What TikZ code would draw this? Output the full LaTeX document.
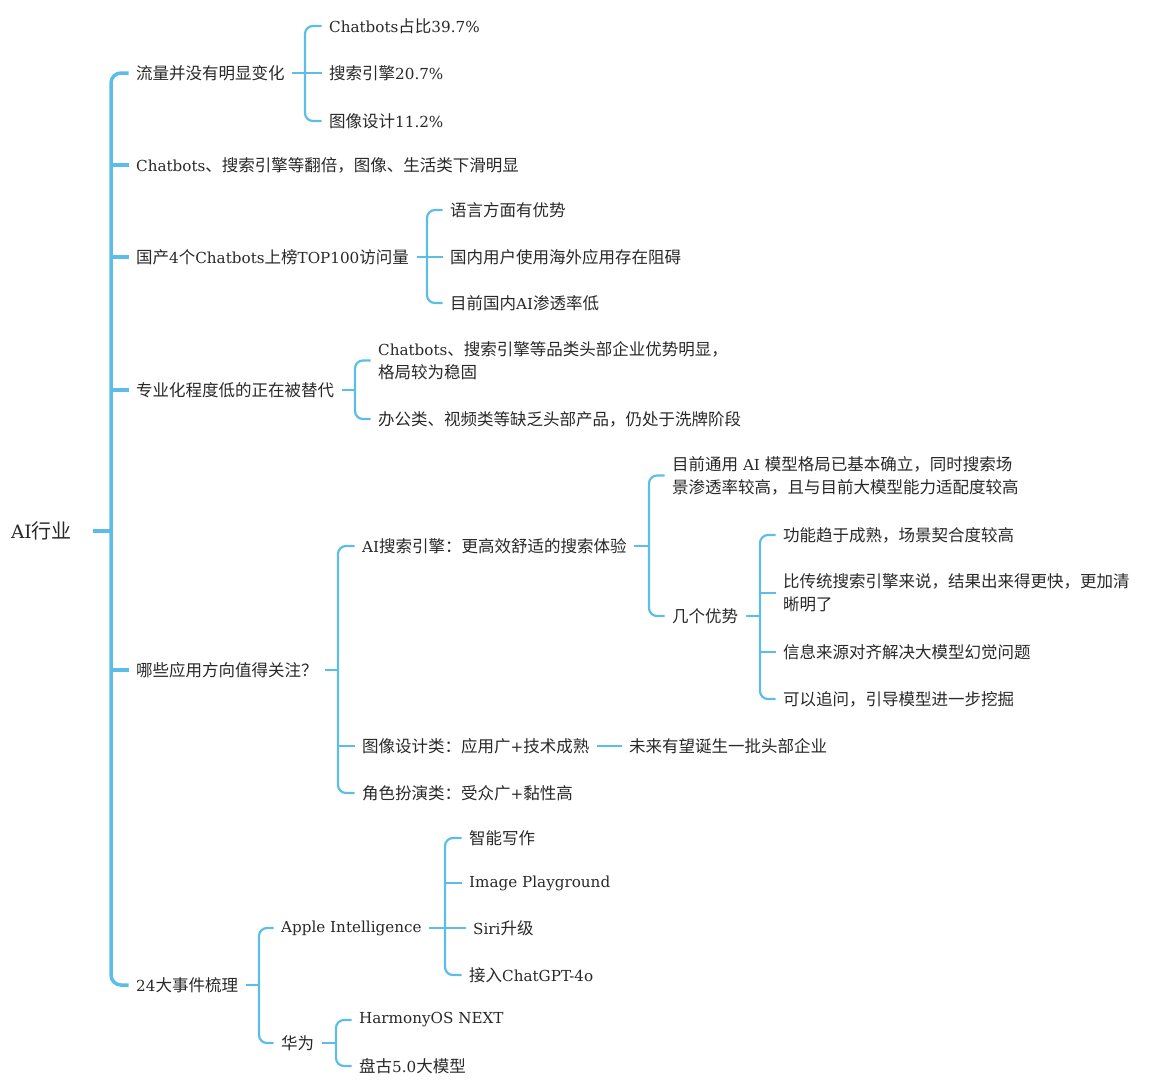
\documentclass[tikz,border=0pt]{standalone}
\usepackage{fontspec}
\setmainfont{DejaVu Serif}[Scale=0.92]
\newfontfamily\cjkfont{Noto Sans CJK SC}
\usepackage{xcolor}
% switch to the CJK face for ideographs and full-width punctuation
\XeTeXinterchartokenstate=1
\newXeTeXintercharclass\cjkclass
\newcount\cjkchar
\newcommand\setcjkrange[2]{%
  \cjkchar=#1
  \loop
    \XeTeXcharclass\cjkchar=\cjkclass
    \ifnum\cjkchar<#2 \advance\cjkchar by 1
  \repeat}
\setcjkrange{"3000}{"303F}
\setcjkrange{"4E00}{"9FFF}
\setcjkrange{"FF00}{"FFEF}
\XeTeXinterchartoks 0 \cjkclass = {\cjkfont}
\XeTeXinterchartoks 4095 \cjkclass = {\cjkfont}
\XeTeXinterchartoks \cjkclass 0 = {\rmfamily}
\XeTeXinterchartoks \cjkclass 4095 = {\rmfamily}
\definecolor{mapblue}{RGB}{92,190,232}
\definecolor{maptext}{RGB}{40,40,40}

\begin{document}
\begin{tikzpicture}[x=1pt,y=1pt,yscale=-1,
    topic/.style={anchor=west,inner xsep=7.5pt,inner ysep=2pt,text=maptext,
      font=\fontsize{16.5}{23}\selectfont,align=left},
    trunk/.style={draw=mapblue,line width=3.5pt,rounded corners=10pt},
    branch/.style={draw=mapblue,line width=2.2pt,rounded corners=8pt}]
\useasboundingbox (0,0) rectangle (1149,1080);

% Text Node
\draw (3.5,531) node [topic,font=\fontsize{20}{24}\selectfont] (root) {AI行业};
% Text Node
\draw (128.5,73) node [topic] (flow) {流量并没有明显变化};
\draw (128.5,165) node [topic] (double) {Chatbots、搜索引擎等翻倍，图像、生活类下滑明显};
\draw (128.5,257) node [topic] (domestic) {国产4个Chatbots上榜TOP100访问量};
\draw (128.5,390) node [topic] (replace) {专业化程度低的正在被替代};
\draw (128.5,670) node [topic] (focus) {哪些应用方向值得关注？};
\draw (128.5,985) node [topic] (events) {24大事件梳理};

% Text Node
\draw (321.5,26) node [topic] (chat) {Chatbots占比39.7\%};
\draw (321.5,73) node [topic] (search) {搜索引擎20.7\%};
\draw (321.5,121) node [topic] (image) {图像设计11.2\%};

% Text Node
\draw (442.5,210) node [topic] (lang) {语言方面有优势};
\draw (442.5,257) node [topic] (block) {国内用户使用海外应用存在阻碍};
\draw (442.5,303) node [topic] (rate) {目前国内AI渗透率低};

% Text Node
\draw (370.5,360.5) node [topic] (head) {Chatbots、搜索引擎等品类头部企业优势明显，\\格局较为稳固};
\draw (370.5,419) node [topic] (shuffle) {办公类、视频类等缺乏头部产品，仍处于洗牌阶段};

% Text Node
\draw (354.5,546) node [topic] (aisearch) {AI搜索引擎：更高效舒适的搜索体验};
\draw (354.5,746) node [topic] (imgdesign) {图像设计类：应用广+技术成熟};
\draw (354.5,793) node [topic] (roleplay) {角色扮演类：受众广+黏性高};
\draw (621.5,746) node [topic] (future) {未来有望诞生一批头部企业};

% Text Node
\draw (664.5,475.5) node [topic] (general) {目前通用 AI 模型格局已基本确立，同时搜索场\\景渗透率较高，且与目前大模型能力适配度较高};
\draw (664.5,616) node [topic] (merits) {几个优势};

% Text Node
\draw (775.5,535) node [topic] (mature) {功能趋于成熟，场景契合度较高};
\draw (775.5,593) node [topic] (faster) {比传统搜索引擎来说，结果出来得更快，更加清\\晰明了};
\draw (775.5,652) node [topic] (source) {信息来源对齐解决大模型幻觉问题};
\draw (775.5,699) node [topic] (follow) {可以追问，引导模型进一步挖掘};

% Text Node
\draw (273.5,928) node [topic] (apple) {Apple Intelligence};
\draw (273.5,1043) node [topic] (huawei) {华为};
\draw (461.5,838) node [topic] (write) {智能写作};
\draw (461.5,883) node [topic] (playground) {Image Playground};
\draw (465.5,928) node [topic] (siri) {Siri升级};
\draw (461.5,975) node [topic] (gpt) {接入ChatGPT-4o};
\draw (351.5,1020) node [topic] (harmony) {HarmonyOS NEXT};
\draw (351.5,1066) node [topic] (pangu) {盘古5.0大模型};

% bracket spines
\coordinate (sp0) at (111,531);
\coordinate (sp1) at (305,73);
\coordinate (sp2) at (427,257);
\coordinate (sp3) at (355,390);
\coordinate (sp4) at (338,670);
\coordinate (sp5) at (649,546);
\coordinate (sp6) at (760,616);
\coordinate (sp7) at (259,985);
\coordinate (sp8) at (445,928);
\coordinate (sp9) at (336,1043);

%Straight Lines
\draw [trunk] ([xshift=14]root.east) -- (sp0);
\draw [trunk] (flow.west) -| (sp0) |- (events.west);
\foreach \n in {double,domestic,replace,focus}
  \draw [trunk] (\n.west) -- (\n.west -| sp0);

%Straight Lines
\draw [branch] (flow.east) -- (sp1);
\draw [branch] (chat.west) -| (sp1) |- (image.west);
\draw [branch] (search.west) -- (search.west -| sp1);

\draw [branch] (domestic.east) -- (sp2);
\draw [branch] (lang.west) -| (sp2) |- (rate.west);
\draw [branch] (block.west) -- (block.west -| sp2);

\draw [branch] (replace.east) -- (sp3);
\draw [branch] (head.west) -| (sp3) |- (shuffle.west);

\draw [branch] (focus.east) -- (sp4);
\draw [branch] (aisearch.west) -| (sp4) |- (roleplay.west);
\draw [branch] (imgdesign.west) -- (imgdesign.west -| sp4);
\draw [branch] (imgdesign.east) -- (future.west);

\draw [branch] (aisearch.east) -- (sp5);
\draw [branch] (general.west) -| (sp5) |- (merits.west);

\draw [branch] (merits.east) -- (sp6);
\draw [branch] (mature.west) -| (sp6) |- (follow.west);
\foreach \n in {faster,source}
  \draw [branch] (\n.west) -- (\n.west -| sp6);

\draw [branch] (events.east) -- (sp7);
\draw [branch] (apple.west) -| (sp7) |- (huawei.west);

\draw [branch] (apple.east) -- (sp8);
\draw [branch] (write.west) -| (sp8) |- (gpt.west);
\draw [branch] (playground.west) -- (playground.west -| sp8);
\draw [branch] (siri.west) -- (siri.west -| sp8);

\draw [branch] (huawei.east) -- (sp9);
\draw [branch] (harmony.west) -| (sp9) |- (pangu.west);
\end{tikzpicture}
\end{document}
